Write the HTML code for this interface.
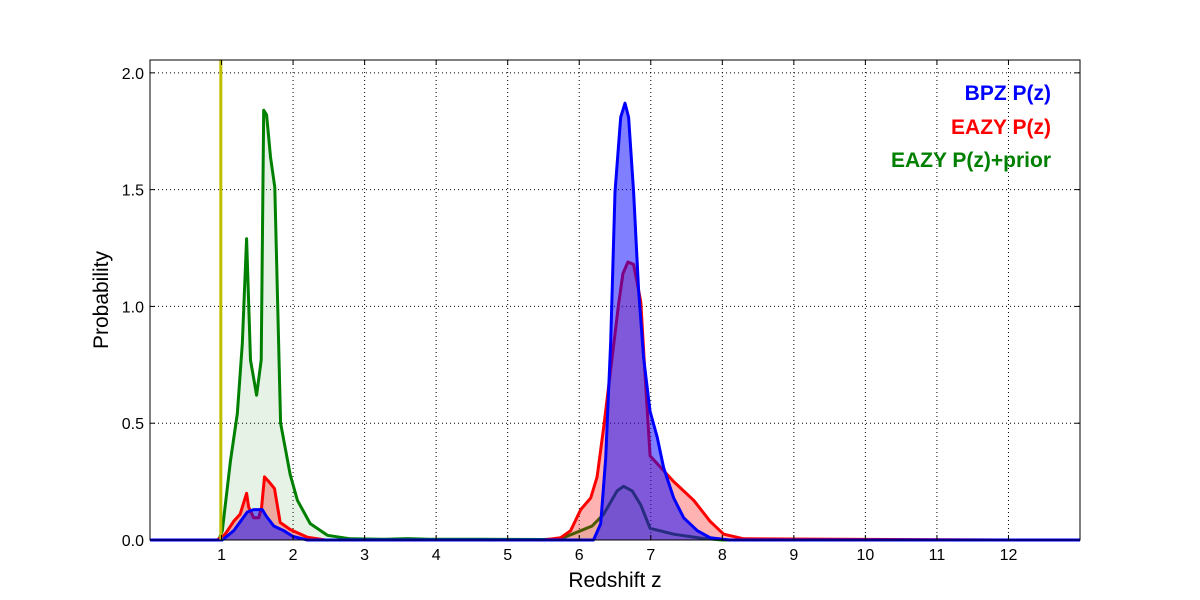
<!DOCTYPE html>
<html><head><meta charset="utf-8"><style>
body{margin:0;background:#fff;}
svg{display:block;font-family:"Liberation Sans","DejaVu Sans",sans-serif;}
</style></head><body>
<svg id="chart" width="1200" height="600">
<rect x="0" y="0" width="1200" height="600" fill="#fff"/>
<g id="grid"></g>
<g id="series"></g>
<g id="ticks"></g>
<rect x="150" y="60" width="930" height="480" fill="none" stroke="#000" stroke-width="1"/>
<text x="615" y="587" font-size="21" text-anchor="middle">Redshift z</text>
<text transform="translate(108,300) rotate(-90)" font-size="21" text-anchor="middle">Probability</text>
<g font-size="21" font-weight="bold" text-anchor="end">
<text x="1051" y="100" fill="#0000ff">BPZ P(z)</text>
<text x="1051" y="134" fill="#ff0000">EAZY P(z)</text>
<text x="1051" y="167" fill="#008000">EAZY P(z)+prior</text>
</g>
</svg>
<script>
const xTicks=[1,2,3,4,5,6,7,8,9,10,11,12];
const yTicks=[0,0.5,1.0,1.5,2.0];
const yTickLabels=["0.0","0.5","1.0","1.5","2.0"];
const specZ=0.99;
const greenZ=[0,0.96,1.01,1.125,1.22,1.29,1.35,1.405,1.49,1.555,1.59,1.63,1.685,1.745,1.825,1.96,2.06,2.24,2.48,2.8,3.3,3.6,3.9,4.6,5.5,5.74,6.02,6.18,6.34,6.53,6.62,6.74,6.86,6.99,7.32,7.7,8.0,13];
const greenP=[0,0,0.04,0.34,0.54,0.84,1.29,0.77,0.62,0.77,1.84,1.82,1.64,1.51,0.50,0.28,0.17,0.07,0.02,0.005,0.003,0.006,0.003,0.003,0.002,0.005,0.04,0.06,0.11,0.21,0.23,0.21,0.15,0.05,0.025,0.008,0,0];
const blueZ=[0,1.01,1.17,1.36,1.45,1.57,1.63,1.73,1.87,2.0,2.2,6.2,6.3,6.37,6.44,6.5,6.58,6.64,6.69,6.76,6.83,6.9,6.99,7.09,7.18,7.32,7.46,7.65,7.83,8.1,13];
const blueP=[0,0,0.04,0.12,0.13,0.13,0.1,0.06,0.04,0.015,0,0,0.07,0.35,0.85,1.49,1.81,1.87,1.81,1.49,1.07,0.78,0.55,0.44,0.31,0.18,0.095,0.04,0.01,0,0];
const redZ=[0,0.94,1.05,1.17,1.26,1.35,1.38,1.45,1.52,1.56,1.6,1.66,1.74,1.82,1.96,2.2,2.45,5.5,5.74,5.88,6.02,6.16,6.25,6.34,6.46,6.55,6.61,6.68,6.76,6.86,6.92,6.99,7.32,7.6,7.83,8.02,8.3,12];
const redP=[0,0,0.025,0.08,0.11,0.2,0.14,0.095,0.095,0.14,0.27,0.25,0.22,0.075,0.045,0.012,0,0,0.01,0.04,0.13,0.18,0.27,0.48,0.78,1.01,1.14,1.19,1.18,1.02,0.71,0.36,0.25,0.17,0.08,0.025,0.005,0];
const NS="http://www.w3.org/2000/svg";
const X0=150,X1=1080,Y0=540,Y1=60,ZMAX=13,PMAX=2.055;
function xs(z){return X0+(X1-X0)*z/ZMAX;}
function ys(p){return Y0-(Y0-Y1)*p/PMAX;}
function mk(tag,attrs,parent){const e=document.createElementNS(NS,tag);for(const k in attrs)e.setAttribute(k,attrs[k]);parent.appendChild(e);return e;}
const grid=document.getElementById('grid'),ticks=document.getElementById('ticks'),series=document.getElementById('series');
xTicks.forEach(t=>{
 const g=mk('line',{x1:xs(t),x2:xs(t),y1:Y1,y2:Y0,stroke:'#000','stroke-width':1,'stroke-dasharray':'1,3'},grid);
 
 
 mk('line',{x1:xs(t),x2:xs(t),y1:Y0,y2:Y0-5,stroke:'#000'},ticks);
 mk('line',{x1:xs(t),x2:xs(t),y1:Y1,y2:Y1+5,stroke:'#000'},ticks);
 const l=mk('text',{x:xs(t),y:Y0+20,'font-size':16,'text-anchor':'middle'},ticks);
 l.textContent=t;
 
 
});
yTicks.forEach((t,i)=>{
 const g=mk('line',{x1:X0,x2:X1,y1:ys(t),y2:ys(t),stroke:'#000','stroke-width':1,'stroke-dasharray':'1,3'},grid);
 
 
 mk('line',{x1:X0,x2:X0+5,y1:ys(t),y2:ys(t),stroke:'#000'},ticks);
 mk('line',{x1:X1,x2:X1-5,y1:ys(t),y2:ys(t),stroke:'#000'},ticks);
 const l=mk('text',{x:X0-6,y:ys(t)+6,'font-size':16,'text-anchor':'end'},ticks);
 l.textContent=yTickLabels[i];
 
 
});
function draw(zs,ps,color,alpha,name){
 let d='M'+xs(zs[0])+','+ys(ps[0]);
 for(let i=1;i<zs.length;i++)d+=' L'+xs(zs[i]).toFixed(1)+','+ys(ps[i]).toFixed(1);
 const area=mk('path',{d:d+' L'+xs(zs[zs.length-1])+','+ys(0)+' L'+xs(zs[0])+','+ys(0)+' Z',fill:color,'fill-opacity':alpha,stroke:'none'},series);
 
 
 const line=mk('path',{d:d,fill:'none',stroke:color,'stroke-width':3,'stroke-linejoin':'round'},series);
 
 
}
draw(greenZ,greenP,'#008000',0.1,'eazy-prior-pz');
draw(redZ,redP,'#ff0000',0.3,'eazy-pz');
draw(blueZ,blueP,'#0000ff',0.5,'bpz-pz');
const sp=mk('line',{x1:xs(specZ),x2:xs(specZ),y1:Y1,y2:Y0,stroke:'#bfbf00','stroke-width':3},series);


</script>
</body></html>
